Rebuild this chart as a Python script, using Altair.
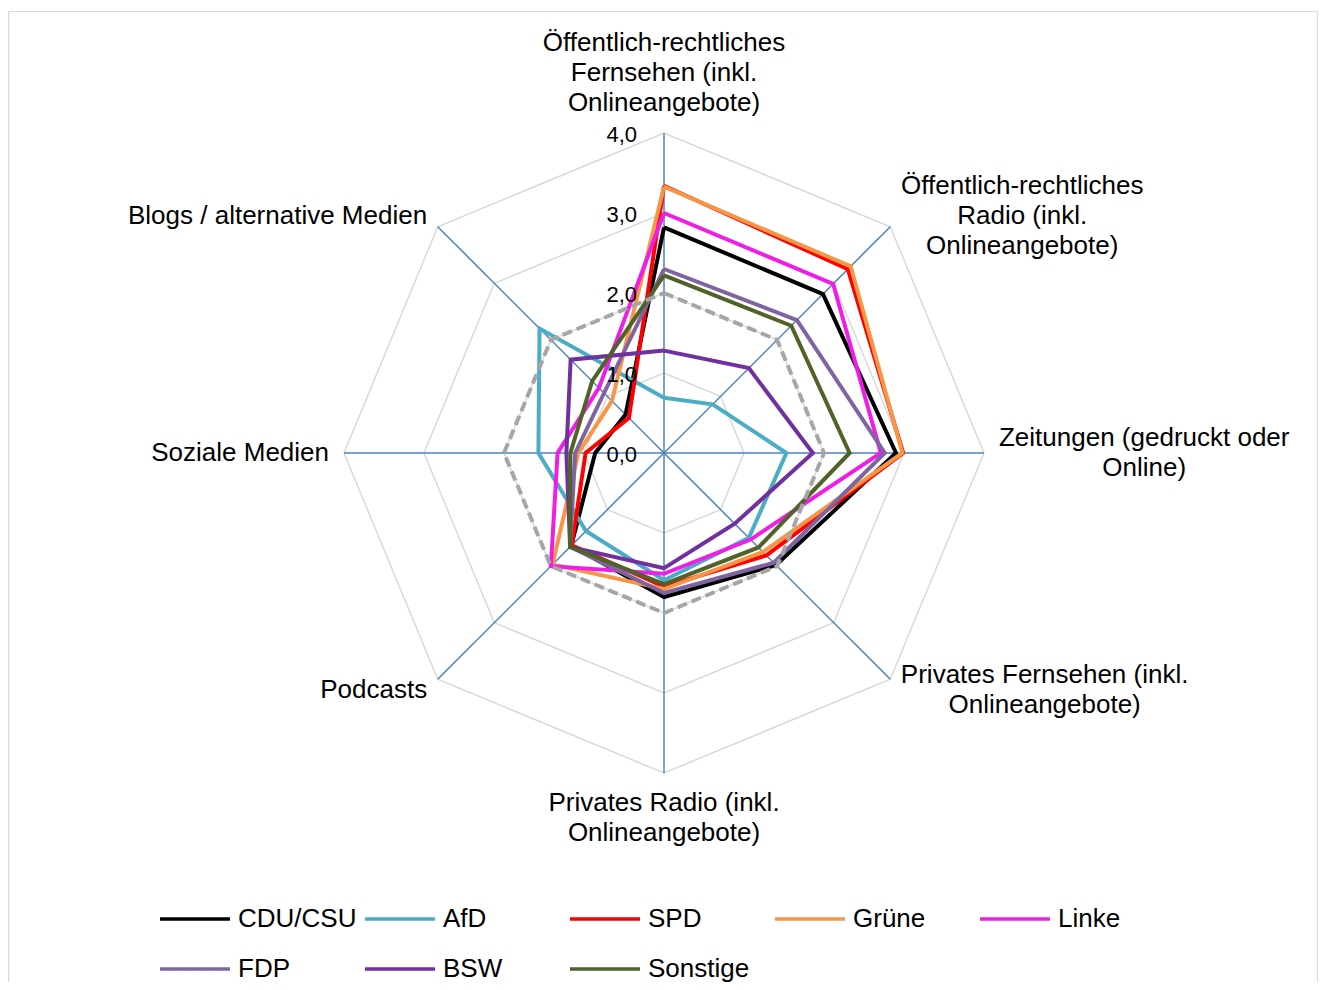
import math
import altair as alt
import pandas as pd

# ---------------- data ----------------
categories = [
    "Öffentlich-rechtliches\nFernsehen (inkl.\nOnlineangebote)",
    "Öffentlich-rechtliches\nRadio (inkl.\nOnlineangebote)",
    "Zeitungen (gedruckt oder\nOnline)",
    "Privates Fernsehen (inkl.\nOnlineangebote)",
    "Privates Radio (inkl.\nOnlineangebote)",
    "Podcasts",
    "Soziale Medien",
    "Blogs / alternative Medien",
]
parties = ["CDU/CSU", "AfD", "SPD", "Grüne", "Linke", "FDP", "BSW", "Sonstige"]
party_colors = ["#000000", "#4bacc6", "#ff0000", "#f79646", "#ee1ee6",
                "#8064a2", "#7030a0", "#4f6228"]

cdu_csu = [2.82, 2.81, 2.90, 1.98, 1.80, 1.64, 0.86, 0.68]
afd = [0.69, 0.86, 1.53, 1.50, 1.59, 1.38, 1.57, 2.20]
spd = [3.34, 3.25, 2.99, 1.81, 1.67, 1.63, 0.98, 0.62]
gruene = [3.33, 3.30, 2.98, 1.75, 1.70, 1.97, 1.07, 0.92]
linke = [3.00, 2.99, 2.71, 1.53, 1.51, 2.00, 1.33, 1.15]
fdp = [2.30, 2.35, 2.76, 1.94, 1.75, 1.66, 1.11, 1.06]
bsw = [1.28, 1.50, 1.86, 1.25, 1.44, 1.66, 1.22, 1.65]
sonstige = [2.22, 2.25, 2.32, 1.67, 1.64, 1.66, 1.17, 1.27]
series = [cdu_csu, afd, spd, gruene, linke, fdp, bsw, sonstige]

reference_line = [2.0, 2.0, 2.0, 2.0, 2.0, 2.0, 2.0, 2.0]

tick_values = [0.0, 1.0, 2.0, 3.0, 4.0]
tick_labels = ["0,0", "1,0", "2,0", "3,0", "4,0"]
grid_levels = [1.0, 2.0, 3.0, 4.0]
axis_max = 4.0

# ---------------- layout ----------------
W, H = 1310, 974
CX, CY = 656, 445          # canvas pixel of the radar centre
PX = 80.0                  # pixels per unit
FONT = "Liberation Sans"
LABEL_SIZE = 26
LINE_H = 30
TICK_SIZE = 22
SERIES_W = 4
N = len(categories)

x_scale = alt.Scale(domain=[-CX / PX, (W - CX) / PX], nice=False, zero=False)
y_scale = alt.Scale(domain=[-(H - CY) / PX, CY / PX], nice=False, zero=False)

polar = dict(
    px=f"datum.value * sin(datum.idx * 2 * PI / {N})",
    py=f"datum.value * cos(datum.idx * 2 * PI / {N})",
)


def closed(vals):
    return list(vals) + [vals[0]]


X = alt.X("px:Q", scale=x_scale, axis=None)
Y = alt.Y("py:Q", scale=y_scale, axis=None)

# grid octagons
ring_rows = [{"level": lv, "idx": i, "value": lv}
             for lv in grid_levels for i in range(N + 1)]
rings = alt.Chart(pd.DataFrame(ring_rows)).transform_calculate(**polar).mark_line(
    color="#d9d9d9", strokeWidth=1.5
).encode(x=X, y=Y, detail="level:N", order="idx:Q")

# spokes
spoke_rows = [{"idx": i, "value": axis_max} for i in range(N)]
spokes = alt.Chart(pd.DataFrame(spoke_rows)).transform_calculate(
    **polar, zx="0", zy="0"
).mark_rule(color="#4f81bd", strokeWidth=1.5).encode(
    x=alt.X("zx:Q", scale=x_scale, axis=None),
    y=alt.Y("zy:Q", scale=y_scale, axis=None),
    x2="px:Q", y2="py:Q",
)

# party series
rows = []
for p, vals in zip(parties, series):
    for i, v in enumerate(closed(vals)):
        rows.append({"party": p, "idx": i, "value": v})
lines = alt.Chart(pd.DataFrame(rows)).transform_calculate(**polar).mark_line(
    strokeWidth=SERIES_W
).encode(
    x=X, y=Y, order="idx:Q",
    color=alt.Color(
        "party:N",
        scale=alt.Scale(domain=parties, range=party_colors),
        legend=alt.Legend(
            title=None, orient="none", legendX=150, legendY=874,
            direction="horizontal", columns=5, gridAlign="all",
            symbolType="stroke", symbolSize=4900, symbolStrokeWidth=3.5,
            labelFont=FONT, labelFontSize=LABEL_SIZE, labelColor="#000000",
            labelOffset=6, columnPadding=1, rowPadding=-28, padding=0,
            labelLimit=300,
        ),
    ),
)

# dashed reference
ref_rows = [{"idx": i, "value": v} for i, v in enumerate(closed(reference_line))]
ref = alt.Chart(pd.DataFrame(ref_rows)).transform_calculate(**polar).mark_line(
    color="#a6a6a6", strokeWidth=SERIES_W, strokeDash=[10, 5]
).encode(x=X, y=Y, order="idx:Q")

# tick labels
ticks = alt.Chart(pd.DataFrame({"value": tick_values, "label": tick_labels})
                  ).transform_calculate(zx="0").mark_text(
    align="right", baseline="middle", dx=-27, dy=2,
    font=FONT, fontSize=TICK_SIZE, color="#000000"
).encode(
    x=alt.X("zx:Q", scale=x_scale, axis=None),
    y=alt.Y("value:Q", scale=y_scale, axis=None),
    text="label:N",
)

# category labels: centre computed from the axis angle and text size
ARIAL = {" ": 278, "(": 333, ")": 333, "-": 333, ".": 278, "/": 278,
         "B": 667, "D": 722, "F": 611, "M": 833, "O": 778, "Ö": 778,
         "P": 667, "R": 722, "S": 667, "Z": 611,
         "a": 556, "b": 556, "c": 500, "d": 556, "e": 556, "f": 278,
         "g": 556, "h": 556, "i": 222, "k": 500, "l": 222, "m": 833,
         "n": 556, "o": 556, "p": 556, "r": 333, "s": 500, "t": 278,
         "u": 556, "v": 500, "z": 500}


def text_width(s):
    return sum(ARIAL.get(ch, 556) for ch in s) * LABEL_SIZE / 1000.0


gap = 15 / PX
lab_rows = []
for i, lab in enumerate(categories):
    a = i * 2 * math.pi / N
    s, c = math.sin(a), math.cos(a)
    r = axis_max + gap
    ax, ay = r * s, r * c
    lines_ = lab.split("\n")
    w = max(text_width(t) for t in lines_) / PX
    hh = len(lines_) * LINE_H / 2 / PX
    if abs(s) < 0.01:
        cx, cy = 0.0, ay + math.copysign(hh, c)
    else:
        cx, cy = ax + math.copysign(w / 2, s), ay
    # Vega puts the first line at the anchor: lift it so the block is centred
    cy += (len(lines_) - 1) * LINE_H / 2 / PX
    lab_rows.append({"label": lab, "cx": cx, "cy": cy})

cat_labels = alt.Chart(pd.DataFrame(lab_rows)).mark_text(
    align="center", baseline="middle", lineBreak="\n", lineHeight=LINE_H,
    font=FONT, fontSize=LABEL_SIZE, color="#000000"
).encode(
    x=alt.X("cx:Q", scale=x_scale, axis=None),
    y=alt.Y("cy:Q", scale=y_scale, axis=None),
    text="label:N",
)

# outer frame (top, left, right)
one = alt.Data(values=[{"k": 1}])
frame_top = alt.Chart(one).mark_rule(color="#d9d9d9", strokeWidth=1.2).encode(
    x=alt.value(0), x2=alt.value(W), y=alt.value(3.5))
frame_left = alt.Chart(one).mark_rule(color="#d9d9d9", strokeWidth=1.2).encode(
    x=alt.value(0.6), y=alt.value(3), y2=alt.value(H))
frame_right = alt.Chart(one).mark_rule(color="#d9d9d9", strokeWidth=1.2).encode(
    x=alt.value(W - 0.6), y=alt.value(3), y2=alt.value(H))

chart = alt.layer(
    frame_top, frame_left, frame_right,
    rings, spokes, lines, ref, ticks, cat_labels,
).properties(
    width=W, height=H, padding=0, autosize="none", background="white"
).configure_view(stroke=None)

chart.save("out.html", embed_options={"renderer": "svg", "actions": False})
